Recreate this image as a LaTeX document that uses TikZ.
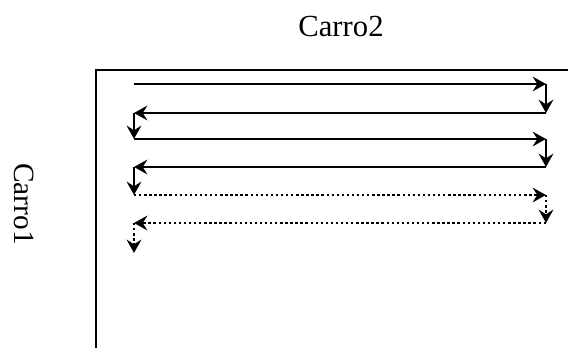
\documentclass[tikz,border=0pt]{standalone}
\usepackage{fontspec}
\setmainfont{Liberation Serif}
\usetikzlibrary{arrows.meta}
\begin{document}
\begin{tikzpicture}[x=0.75pt,y=-0.75pt,
  frameline/.style={line width=1.8pt},
  solidarrow/.style={line width=2pt,-{Stealth[length=10pt,width=11pt,inset=3.5pt]}},
  dotarrow/.style={line width=1.8pt,dotted,-{Stealth[length=10pt,width=11pt,inset=3.5pt]}},
  lbl/.style={inner sep=0pt}]
\useasboundingbox (0,0) rectangle (568,348);
% frame
\coordinate (tr) at (568,70);
\coordinate (tl) at (96,70);
\coordinate (bl) at (96,348);
\draw[frameline] (tr) -- (tl) -- (bl);
% labels
\node[lbl,font=\fontsize{23}{26}\selectfont] (c2) at (341,27) {Carro2};
\node[lbl,font=\fontsize{22}{25}\selectfont,rotate=-90] (c1) at (24,204) {Carro1};
% row corners
\coordinate (l1) at (134,84);  \coordinate (r1) at (546,84);
\coordinate (l2) at (134,113); \coordinate (r2) at (546,113);
\coordinate (l3) at (134,139); \coordinate (r3) at (546,139);
\coordinate (l4) at (134,167); \coordinate (r4) at (546,167);
\coordinate (l5) at (134,195); \coordinate (r5) at (546,195);
\coordinate (l6) at (134,223); \coordinate (r6) at (546,223);
\coordinate (end) at (134,253);
% solid zigzag
\draw[solidarrow] (l1) -- (r1);
\draw[solidarrow] (r1) -- (r2);
\draw[solidarrow] (r2) -- (l2);
\draw[solidarrow] (l2) -- (l3);
\draw[solidarrow] (l3) -- (r3);
\draw[solidarrow] (r3) -- (r4);
\draw[solidarrow] (r4) -- (l4);
\draw[solidarrow] (l4) -- (l5);
% dotted continuation
\draw[dotarrow] (l5) -- (r5);
\draw[dotarrow] (r5) -- (r6);
\draw[dotarrow] (r6) -- (l6);
\draw[dotarrow] (l6) -- (end);
\end{tikzpicture}
\end{document}
